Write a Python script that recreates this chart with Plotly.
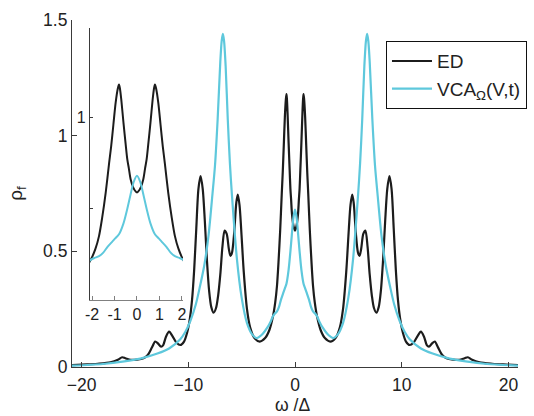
import plotly.graph_objects as go

# ---- data (omega/Delta, rho_f) ----
ed_x = [-20.9, -19.5, -18.5, -17.3, -16.6, -16.2, -15.9, -15.4, -14.8, -14.2, -13.8, -13.4, -13.1, -12.85,
        -12.55, -12.35, -12.1, -11.8, -11.5, -11.1, -10.75, -10.4, -10.1, -9.85, -9.65, -9.45, -9.25, -9.05,
        -8.85, -8.65, -8.45, -8.25, -8.05, -7.85, -7.63, -7.4, -7.2, -7.0, -6.8, -6.6, -6.4, -6.2, -6.05, -5.9,
        -5.7, -5.5, -5.36, -5.2, -5.05, -4.8, -4.5, -4.2, -3.8, -3.3, -2.8, -2.4, -2.06, -1.85, -1.69, -1.55,
        -1.39, -1.24, -1.15, -1.05, -0.95, -0.85, -0.8, -0.76, -0.7, -0.6, -0.5, -0.43, -0.36, -0.28, -0.14,
        0.0,
        0.14, 0.28, 0.36, 0.43, 0.5, 0.6, 0.7, 0.76, 0.8, 0.85, 0.95, 1.05, 1.15, 1.24, 1.39, 1.55, 1.69, 1.85,
        2.06, 2.4, 2.8, 3.3, 3.8, 4.2, 4.5, 4.8, 5.05, 5.2, 5.36, 5.5, 5.7, 5.9, 6.05, 6.2, 6.4, 6.6, 6.8, 7.0,
        7.2, 7.4, 7.63, 7.85, 8.05, 8.25, 8.45, 8.65, 8.85, 9.05, 9.25, 9.45, 9.65, 9.85, 10.1, 10.4, 10.75,
        11.1, 11.5, 11.8, 12.1, 12.35, 12.55, 12.85, 13.1, 13.4, 13.8, 14.2, 14.8, 15.4, 15.9, 16.2, 16.6,
        17.3, 18.5, 19.5, 20.9]
ed_y = [0.008, 0.011, 0.014, 0.02, 0.031, 0.042, 0.038, 0.031, 0.032, 0.038, 0.052, 0.085, 0.11, 0.102,
        0.088, 0.095, 0.13, 0.153, 0.135, 0.105, 0.095, 0.11, 0.15, 0.21, 0.29, 0.42, 0.60, 0.77,
        0.825, 0.77, 0.63, 0.46, 0.33, 0.26, 0.235, 0.255, 0.31, 0.40, 0.52, 0.59, 0.575, 0.51, 0.48, 0.495,
        0.58, 0.71, 0.745, 0.70, 0.60, 0.41, 0.25, 0.17, 0.125, 0.11, 0.125, 0.16, 0.22, 0.28, 0.35, 0.45,
        0.59, 0.75, 0.84, 0.96, 1.08, 1.16, 1.18, 1.16, 1.10, 0.97, 0.85, 0.77, 0.72, 0.66, 0.61,
        0.59,
        0.61, 0.66, 0.72, 0.77, 0.85, 0.97, 1.10, 1.16, 1.18, 1.16, 1.08, 0.96, 0.84, 0.75, 0.59, 0.45, 0.35, 0.28,
        0.22, 0.16, 0.125, 0.11, 0.125, 0.17, 0.25, 0.41, 0.60, 0.70, 0.745, 0.71, 0.58, 0.495, 0.48, 0.51, 0.575,
        0.59, 0.52, 0.40, 0.31, 0.255, 0.235, 0.26, 0.33, 0.46, 0.63, 0.77, 0.825, 0.77, 0.60, 0.42, 0.29, 0.21,
        0.15, 0.11, 0.095, 0.105, 0.135, 0.153, 0.13, 0.095, 0.088, 0.102, 0.11, 0.085, 0.052, 0.038, 0.032,
        0.031, 0.038, 0.042, 0.031, 0.02, 0.014, 0.011, 0.008]

vca_x = [-20.9, -18.0, -16.0, -14.5, -12.9, -11.8, -10.75, -10.3, -9.8, -9.3, -8.9, -8.5, -8.1, -7.73, -7.5,
         -7.25, -7.0, -6.87, -6.76, -6.65, -6.5, -6.3, -6.1, -5.92, -5.45, -5.0, -4.5, -4.0, -3.6, -3.3, -3.0,
         -2.6, -2.3, -2.06, -1.9, -1.69, -1.5, -1.32, -1.1, -0.95, -0.8, -0.6, -0.43, -0.3, -0.15,
         0.0,
         0.15, 0.3, 0.43, 0.6, 0.8, 0.95, 1.1, 1.32, 1.5, 1.69, 1.9, 2.06, 2.3, 2.6, 3.0, 3.3, 3.6, 4.0, 4.5,
         5.0, 5.45, 5.92, 6.1, 6.3, 6.5, 6.65, 6.76, 6.87, 7.0, 7.25, 7.5, 7.73, 8.1, 8.5, 8.9, 9.3, 9.8, 10.3,
         10.75, 11.8, 12.9, 14.5, 16.0, 18.0, 20.9]
vca_y = [0.006, 0.013, 0.024, 0.036, 0.058, 0.08, 0.12, 0.15, 0.20, 0.27, 0.35, 0.44, 0.57, 0.75, 0.87,
         1.07, 1.32, 1.41, 1.44, 1.41, 1.30, 1.07, 0.88, 0.75, 0.47, 0.30, 0.19, 0.14, 0.125, 0.132, 0.145,
         0.17, 0.195, 0.22, 0.23, 0.24, 0.26, 0.29, 0.32, 0.34, 0.36, 0.42, 0.50, 0.57, 0.645,
         0.68,
         0.645, 0.57, 0.50, 0.42, 0.36, 0.34, 0.32, 0.29, 0.26, 0.24, 0.23, 0.22, 0.195, 0.17, 0.145, 0.132,
         0.125, 0.14, 0.19, 0.30, 0.47, 0.75, 0.88, 1.07, 1.30, 1.41, 1.44, 1.41, 1.32, 1.07, 0.87, 0.75,
         0.57, 0.44, 0.35, 0.27, 0.20, 0.15, 0.12, 0.08, 0.058, 0.036, 0.024, 0.013, 0.006]

main_xticks = [-20, -10, 0, 10, 20]
main_yticks = [0, 0.5, 1, 1.5]
main_yticklabels = ["0", "0.5", "1", "1.5"]
inset_xticks = [-2, -1, 0, 1, 2]
inset_xticklabels = ["-2", "-1", "0", "1", "2"]
inset_yticks = [1]
inset_yticklabels = ["1"]
inset_yminor = [0.5]

ED_COLOR = "#1c1c1c"
VCA_COLOR = "#5ec8dc"
FONT = "Liberation Sans, Arial, sans-serif"

fig = go.Figure()
line_kw = dict(shape="spline", smoothing=0.8)
fig.add_trace(go.Scatter(x=ed_x, y=ed_y, mode="lines", name="ED",
                         line=dict(color=ED_COLOR, width=2.2, **line_kw)))
fig.add_trace(go.Scatter(x=vca_x, y=vca_y, mode="lines", name="VCA<sub>Ω</sub>(V,t)",
                         line=dict(color=VCA_COLOR, width=2.2, **line_kw)))
fig.add_trace(go.Scatter(x=ed_x, y=ed_y, mode="lines", showlegend=False, xaxis="x2", yaxis="y2",
                         line=dict(color=ED_COLOR, width=2.0, **line_kw)))
fig.add_trace(go.Scatter(x=vca_x, y=vca_y, mode="lines", showlegend=False, xaxis="x2", yaxis="y2",
                         line=dict(color=VCA_COLOR, width=2.0, **line_kw)))

axis_common = dict(showgrid=False, zeroline=False, showline=True, ticks="inside",
                   linecolor="#3a3a3a", tickcolor="#3a3a3a", linewidth=1.2)

fig.update_layout(
    width=534, height=416,
    margin=dict(l=72, r=16, t=20, b=49, autoexpand=False),
    paper_bgcolor="white", plot_bgcolor="white",
    font=dict(family=FONT, color="#222222", size=17),
    xaxis=dict(range=[-20.9, 20.9], tickvals=main_xticks, ticklen=5, automargin=False,
               tickfont=dict(size=17.5), ticklabelstandoff=2, **axis_common),
    yaxis=dict(range=[0, 1.5], tickvals=main_yticks, ticktext=main_yticklabels, ticklen=5,
               automargin=False, tickfont=dict(size=17.5), **axis_common),
    xaxis2=dict(domain=[0.0404, 0.2489], anchor="y2", range=[-2.09, 2.05], tickvals=inset_xticks,
                ticktext=inset_xticklabels, ticklen=4, tickfont=dict(size=16), automargin=False,
                **{**axis_common, "linecolor": "#808080", "tickcolor": "#808080"}),
    yaxis2=dict(domain=[0.193, 0.977], anchor="x2", range=[0, 1.49], tickvals=inset_yticks,
                ticktext=inset_yticklabels, ticklen=3, tickfont=dict(size=16), automargin=False,
                minor=dict(tickvals=inset_yminor, ticks="inside", ticklen=3, tickcolor="#3a3a3a"),
                **axis_common),
    legend=dict(x=0.704, y=0.939, xanchor="left", yanchor="top", bgcolor="white",
                bordercolor="#111111", borderwidth=1, font=dict(size=19), tracegroupgap=0,
                itemwidth=40),
    annotations=[
        dict(text="ω /Δ", xref="paper", yref="paper", x=0.495, y=-0.11, showarrow=False,
             xanchor="center", yanchor="middle", font=dict(size=17.5)),
        dict(text="ρ<sub>f</sub>", xref="paper", yref="paper", x=-0.125, y=0.5, showarrow=False,
             textangle=-90, xanchor="center", yanchor="middle", font=dict(size=19)),
    ],
)

fig.write_html("out.html")
